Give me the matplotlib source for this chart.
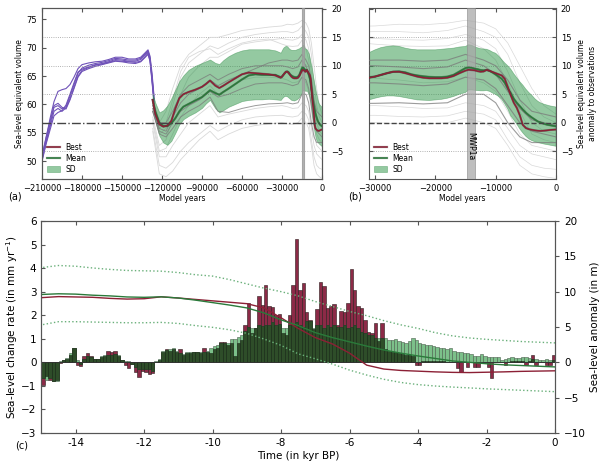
import numpy as np
import matplotlib
matplotlib.use('Agg')
import matplotlib.pyplot as plt
import matplotlib.patheffects as pe

# ---------------- data ----------------
# purple ensemble (glacial build-up), sea-level equivalent volume
yr_pur = [-210000, -207000, -204000, -201000, -198000, -195000, -192000, -189000,
          -186000, -183000, -180000, -175000, -170000, -165000, -160000, -155000,
          -150000, -145000, -140000, -136000, -133000, -130500, -129000, -127500, -126000]
pur_lines = [
    [51.0, 54.0, 57.5, 60.5, 62.3, 62.6, 62.8, 63.5, 64.8, 66.3, 67.0, 67.3, 67.5, 67.6,
     67.9, 68.3, 68.3, 68.0, 68.0, 68.3, 69.0, 69.6, 68.5, 65.5, 61.5],
    [50.5, 53.5, 56.5, 59.5, 59.8, 59.2, 59.6, 61.5, 63.5, 65.5, 66.4, 66.9, 67.2, 67.4,
     67.7, 68.1, 68.0, 67.8, 67.8, 68.1, 68.8, 69.4, 68.2, 65.0, 61.0],
    [50.2, 53.2, 56.0, 58.8, 59.3, 58.8, 59.4, 61.0, 63.0, 65.0, 66.0, 66.5, 66.9, 67.2,
     67.5, 67.9, 67.8, 67.6, 67.6, 67.9, 68.6, 69.2, 68.0, 64.6, 60.8],
    [50.0, 53.0, 55.5, 58.0, 58.6, 58.9, 59.9, 61.8, 63.8, 65.7, 66.2, 66.6, 67.0, 67.1,
     67.4, 67.7, 67.6, 67.5, 67.4, 67.6, 68.3, 69.0, 67.8, 64.3, 60.5],
    [50.8, 54.2, 57.0, 59.8, 60.2, 59.5, 59.2, 60.8, 62.8, 64.8, 65.8, 66.3, 66.7, 67.0,
     67.3, 67.6, 67.5, 67.3, 67.2, 67.5, 68.2, 68.8, 67.6, 64.0, 60.2],
]

# gray ensemble members, anomaly to observations (m)
yr_ens = [-127000, -122000, -117000, -112000, -106000, -100000, -92000, -84000, -78000,
          -70000, -60000, -50000, -40000, -30000, -26000, -22000, -18000, -15000, -12000,
          -10000, -8000, -6000, -4000, -2000, 0]
light_lines = [
    [3, 0, 2, 6, 10, 12, 13.5, 15, 15, 15.5, 16.2, 16.5, 16.8, 17, 17.3, 17.2, 17.5, 18.0, 17.5, 16.5, 14, 10, 6, 3, 1.5],
    [2, -2, -1, 3, 8, 10.5, 12, 13.5, 13, 14, 15, 15.5, 15.8, 16, 16, 15.8, 16.2, 17, 16, 15, 12, 7, 3, 1, 0],
    [1, -4, -3, 1, 5, 8, 10, 11.5, 11.5, 12.5, 13.8, 14.2, 14.5, 14.8, 14.6, 14.5, 14.8, 15.5, 14.5, 13, 9, 4, 0, -1.5, -2],
    [0, -6, -6, -4, -2, 0, 1.5, 3, 1, 1.5, 2, 2.5, 2.8, 3.0, 2.8, 2.5, 2.6, 3.5, 3, 2, -1, -4, -5.5, -6, -6.5],
    [-1, -7.5, -8, -7, -5, -3.5, -2, -0.5, -1.5, -0.5, 0.5, 1.0, 1.2, 1.3, 1.1, 1.0, 1.2, 2.0, 1.5, 0.5, -3, -6, -7.5, -8, -8.2],
    [-1.5, -9, -9.5, -8.5, -6.5, -5, -3, -1.5, -3, -2, -1, -0.5, -0.2, 0, -0.2, -0.3, 0, 0.8, 0, -1, -4, -7.5, -9, -9.5, -9.8],
    [2.5, -1, 0, 4, 9, 11.5, 12.5, 13, 12, 13, 14, 14.5, 14.7, 13.8, 13.5, 13.4, 13.5, 14.5, 13, 11, 7, 2, -2, -3, -3.5],
    [0.5, -5, -4.5, -2, 1, 3, 5, 6.5, 5, 6, 7.5, 8, 8, 7.8, 7.5, 7.0, 7.2, 8, 7, 5.5, 2, -2, -4, -4.5, -5],
]
dark_lines = [
    [2.5, -1, -1.5, 1, 3.5, 5, 6, 7.5, 6.5, 7.5, 8.5, 9.5, 10.5, 11, 11, 10.8, 11, 12, 11, 10, 7.5, 4, 2, 1.5, 1],
    [2, -1.5, -2, 0, 2, 3, 4, 5.5, 4.5, 5, 6, 6.8, 7, 7, 6.8, 6.5, 6.8, 8, 7.5, 6, 3, 0, -1.5, -2, -2.5],
    [2, -2, -2.5, -1, 1, 2, 3, 4.5, 2, 1.8, 2.5, 3, 3.3, 3.4, 3.5, 3.3, 3.5, 5, 5, 3.5, 0, -2.5, -3.5, -3.5, -3.5],
    [3, 0, 0, 2, 5, 6.5, 7.5, 8.5, 7.5, 8.5, 9.5, 10, 10, 10, 9.8, 9.5, 9.8, 11, 10, 8.5, 5.5, 2.5, 0.5, 0, -0.5],
]

# best run, ensemble mean and mean +/- SD (anomaly, m)
yr_stat = [-127000, -125000, -122000, -119000, -116000, -113000, -110000, -107000, -104000,
           -100000, -95000, -90000, -87000, -84000, -80000, -77000, -74000, -70000, -65000,
           -60000, -55000, -50000, -45000, -40000, -35000,
           -31000, -30000, -29000, -28000, -27000, -26000, -25000, -24000, -23000, -22000,
           -21000, -20000, -19000, -18000, -17000, -16000,
           -15000, -14500, -14000, -13500, -13000, -12500, -12000, -11500, -11000, -10500,
           -10000, -9500, -9000, -8500, -8000, -7500, -7000, -6500, -6000, -5500, -5000,
           -4500, -4000, -3500, -3000, -2500, -2000, -1500, -1000, -500, 0]
mean = [4.0, 2.0, 0.0, -0.6, -0.6, -0.1, 0.8, 2.0, 2.8, 3.3, 3.9, 4.5, 5.1, 5.7, 5.2, 4.9,
        5.4, 6.0, 6.8, 7.6, 8.3, 8.5, 8.4, 8.4, 8.4,
        8.0, 8.1, 8.4, 8.7, 8.95, 9.0, 8.85, 8.5, 8.3, 8.15, 8.05, 8.0, 8.0, 8.1, 8.4, 9.0,
        9.6, 9.7, 9.65, 9.5, 9.4, 9.25, 9.2, 9.27, 9.1, 8.8, 8.45, 8.1, 7.7, 7.0, 6.0, 5.2,
        4.2, 3.5, 2.9, 2.3, 1.75, 1.3, 0.9, 0.55, 0.2, 0.0, -0.2, -0.35, -0.45, -0.55, -0.65]
best = [4.0, 1.5, -0.3, -0.7, -0.5, 0.3, 2.5, 4.3, 5.0, 5.4, 5.8, 6.3, 6.8, 7.4, 6.5, 6.1,
        6.5, 7.1, 7.8, 8.5, 8.8, 8.7, 8.6, 8.5, 8.3,
        7.9, 8.1, 8.4, 8.7, 8.95, 8.95, 8.7, 8.4, 8.1, 7.9, 7.8, 7.8, 7.8, 7.9, 8.2, 8.7,
        9.15, 9.3, 9.25, 9.2, 9.05, 8.95, 9.0, 9.27, 9.1, 8.9, 8.7, 8.5, 8.3, 7.7, 6.3, 4.8,
        3.5, 2.6, 1.3, -0.4, -0.95, -1.15, -1.25, -1.35, -1.42, -1.45, -1.4, -1.35, -1.28, -1.24, -1.2]
sd_hi = [5.0, 3.5, 1.8, 2.2, 3.0, 4.3, 5.8, 7.3, 8.3, 9.3, 10.0, 10.5, 10.8, 11.1, 10.5, 10.3,
         11.0, 11.7, 12.3, 12.7, 12.9, 12.9, 12.9, 12.9, 12.7,
         12.3, 12.8, 13.2, 13.4, 13.5, 13.4, 13.1, 12.9, 12.8, 12.8, 12.8, 12.8, 12.9, 13.0, 13.1, 13.3,
         13.4, 13.7, 13.6, 13.35, 13.15, 13.0, 12.95, 12.9, 12.7, 12.4, 12.2, 11.7, 11.1, 10.5, 10.0,
         9.4, 8.6, 7.9, 7.2, 6.6, 5.9, 5.3, 4.8, 4.2, 3.75, 3.45, 3.25, 3.1, 2.95, 2.85, 2.75]
sd_lo = [3.0, 0.3, -2.3, -3.5, -3.9, -3.2, -1.8, -0.3, 0.6, 1.2, 1.8, 2.6, 3.4, 4.0, 2.5, 1.8,
         2.2, 2.8, 3.3, 3.8, 4.0, 4.1, 4.1, 4.2, 4.1,
         4.0, 4.3, 4.55, 4.7, 4.7, 4.6, 4.4, 4.2, 4.0, 3.95, 3.9, 4.0, 4.1, 4.3, 4.6, 5.0,
         5.3, 5.75, 5.75, 5.7, 5.65, 5.6, 5.6, 5.65, 5.5, 5.2, 4.95, 4.6, 4.1, 3.3, 2.4, 1.2,
         0.5, -0.25, -1.1, -1.8, -2.4, -2.85, -3.15, -3.35, -3.5, -3.62, -3.75, -3.85, -3.95, -4.05, -4.15]

mwp_start, mwp_end = -14700, -13500
vol_offset = 56.8   # volume of present-day observations

# sea-level change rates, 100-yr bins from -15 kyr BP (mm/yr)
rate_best = [-0.95, -0.6, -0.75, -0.78, -0.75, -0.02, 0.1, 0.15, 0.3, 0.6,
             -0.12, -0.15, 0.25, 0.38, 0.27, 0.15, 0.15, 0.22, 0.28, 0.47,
             0.42, 0.5, 0.25, 0.08, -0.1, -0.22, -0.05, -0.42, -0.62, -0.35,
             -0.42, -0.5, -0.47, 0.02, 0.12, 0.42, 0.55, 0.5, 0.55, 0.42,
             0.55, 0.3, 0.4, 0.4, 0.42, 0.42, 0.38, 0.6, 0.45, 0.38,
             0.55, 0.6, 0.88, 0.88, 0.75, 0.8, 0.25, 0.8, 0.95, 1.58,
             2.5, 1.25, 1.45, 2.8, 2.43, 3.28, 2.38, 2.35, 2.0, 2.05,
             1.23, 1.15, 2.0, 3.28, 5.25, 3.05, 3.38, 2.15, 1.8, 1.4,
             2.26, 3.39, 3.23, 2.29, 2.39, 2.46, 1.58, 2.19, 2.12, 2.5,
             3.98, 3.06, 2.39, 2.29, 1.79, 1.27, 1.23, 1.68, 0.9, 1.65,
             0.55, 0.5, 0.45, 0.45, 0.4, 0.35, 0.3, 0.3, 0.25, -0.11,
             -0.1, 0.05, 0.05, 0.05, 0.05, 0.04, 0.04, 0.04, 0.03, 0.03,
             0.03, -0.25, -0.4, 0.02, -0.2, 0.02, -0.18, -0.18, 0.02, 0.02,
             -0.18, -0.65, 0.02, 0.02, 0.02, -0.12, 0.02, 0.05, 0.05, 0.05,
             0.05, -0.1, 0.05, 0.31, -0.12, 0.02, 0.02, -0.1, -0.12, 0.31]
rate_mean = [-0.65, -0.75, -0.65, -0.78, -0.8, 0.05, 0.12, 0.2, 0.38, 0.62,
             0.1, -0.05, 0.15, 0.25, 0.22, 0.15, 0.15, 0.27, 0.3, 0.32,
             0.3, 0.35, 0.3, 0.12, 0.05, 0.05, -0.05, -0.2, -0.3, -0.3,
             -0.3, -0.3, -0.35, 0.05, 0.15, 0.47, 0.52, 0.55, 0.6, 0.5,
             0.4, 0.35, 0.45, 0.45, 0.42, 0.45, 0.42, 0.45, 0.5, 0.6,
             0.7, 0.73, 0.8, 0.82, 0.82, 1.0, 1.0, 1.08, 1.15, 1.33,
             1.5, 1.45, 1.45, 1.6, 1.55, 1.6, 1.6, 1.72, 1.58, 1.62,
             1.47, 1.45, 1.58, 1.6, 1.72, 1.6, 1.52, 1.75, 1.75, 1.44,
             1.58, 1.58, 1.44, 1.58, 1.52, 1.58, 1.52, 1.52, 1.58, 1.44,
             1.52, 1.58, 1.44, 1.3, 1.23, 1.16, 1.16, 1.02, 1.02, 1.02,
             1.02, 0.95, 0.95, 0.97, 0.92, 0.88, 0.8, 0.92, 1.02, 0.95,
             0.8, 0.78, 0.73, 0.73, 0.69, 0.66, 0.62, 0.59, 0.56, 0.59,
             0.48, 0.45, 0.45, 0.38, 0.41, 0.35, 0.27, 0.28, 0.34, 0.28,
             0.24, 0.24, 0.24, 0.24, 0.1, 0.13, 0.17, 0.21, 0.2, 0.2,
             0.24, 0.21, 0.2, 0.14, 0.14, 0.1, 0.12, 0.15, 0.12, 0.1]

# ---------------- style ----------------
c_best = '#8c2035'
c_mean = '#2a7a3a'
c_band = '#2a9445'
c_pur = '#6f52b8'
c_spine = '#555555'

plt.rcParams['font.family'] = 'DejaVu Sans'
plt.rcParams['axes.edgecolor'] = c_spine
plt.rcParams['xtick.color'] = c_spine
plt.rcParams['ytick.color'] = c_spine
plt.rcParams['xtick.labelcolor'] = 'black'
plt.rcParams['ytick.labelcolor'] = 'black'

# thin dark rim round the best / mean curves
outline = [pe.Stroke(linewidth=1.6, foreground='#3a3a3a', alpha=0.45), pe.Normal()]

fig = plt.figure(figsize=(6, 4.67), dpi=100)


def draw_ensemble(ax, light_lw=0.6, dark_lw=0.7):
    for ln in light_lines:
        ax.plot(yr_ens, ln, color='#d9d9d9', lw=light_lw, zorder=1)
    ax.fill_between(yr_stat, sd_lo, sd_hi, facecolor=c_band, alpha=0.5,
                    edgecolor='#2f8a45', lw=0.5, zorder=2, label='SD')
    for ln in dark_lines:
        ax.plot(yr_ens, ln, color='#7a7a7a', lw=dark_lw, alpha=0.75, zorder=3)
    ax.plot(yr_stat, best, color=c_best, lw=1.1, zorder=5, label='Best',
            path_effects=outline)
    ax.plot(yr_stat, mean, color=c_mean, lw=1.1, zorder=4, label='Mean',
            path_effects=outline)


def grid_lines(ax, ls):
    for v in [15, 10, 5, -5]:
        ax.axhline(v, color='#999999', lw=0.6, ls=':', zorder=0)
    ax.axhline(0, color='#444444', lw=1.0, ls=ls, zorder=6)


def add_legend(ax):
    h, l = ax.get_legend_handles_labels()
    order = [l.index('Best'), l.index('Mean'), l.index('SD')]
    ax.legend([h[i] for i in order], [l[i] for i in order], loc='lower left',
              fontsize=5.5, frameon=False, handlelength=1.6, borderaxespad=0.3,
              labelspacing=0.25)


# ---- panel (a) ----
ax_a = fig.add_axes([0.07, 0.6167, 0.4667, 0.3655])
ax_a2 = ax_a.twinx()
for ln in pur_lines:
    ax_a.plot(yr_pur, ln, color=c_pur, lw=0.8)
ax_a.set_xlim(-210000, 0)
ax_a.set_ylim(46.9, 76.9)
ax_a.set_yticks([50, 55, 60, 65, 70, 75])
ax_a.set_xticks([-210000, -180000, -150000, -120000, -90000, -60000, -30000, 0])
ax_a.tick_params(labelsize=6, direction='in', length=3, top=True)
ax_a.set_xlabel('Model years', fontsize=5.5, labelpad=1)
ax_a.set_ylabel('Sea-level equivalent volume', fontsize=5.5, labelpad=2)

ax_a2.set_ylim(46.9 - vol_offset, 76.9 - vol_offset)
grid_lines(ax_a2, '-.')
ax_a2.axvspan(mwp_start, mwp_end, facecolor='#a0a0a0', edgecolor='#999999',
              alpha=0.8, lw=0.8, zorder=3.5)
draw_ensemble(ax_a2)
ax_a2.set_yticks([-5, 0, 5, 10, 15, 20])
ax_a2.tick_params(labelsize=6, direction='out', length=3)
add_legend(ax_a2)
fig.text(0.013, 0.573, '(a)', fontsize=7)

# ---- panel (b) ----
ax_b = fig.add_axes([0.615, 0.6167, 0.3117, 0.3655])
ax_b.set_ylim(46.9 - vol_offset, 76.9 - vol_offset)
ax_b.set_xlim(-31000, 0)
grid_lines(ax_b, '--')
ax_b.axvspan(mwp_start, mwp_end, facecolor='#a8a8a8', edgecolor='#909090',
             alpha=0.75, lw=0.6, zorder=3.5)
draw_ensemble(ax_b, light_lw=0.5, dark_lw=0.8)
ax_b.text((mwp_start + mwp_end) / 2, -1.6, 'MWP1a', rotation=270, fontsize=5.5,
          ha='center', va='top', zorder=7)
ax_b.set_xticks([-30000, -20000, -10000, 0])
ax_b.set_yticks([-5, 0, 5, 10, 15, 20])
ax_b.tick_params(labelsize=6, direction='in', length=3, top=True,
                 left=True, right=False, labelleft=False)
ax_b.tick_params(axis='y', right=True, labelright=True)
ax_b.yaxis.set_label_position('right')
ax_b.set_ylabel('Sea-level equivalent volume\nanomaly to observations',
                fontsize=5.5, labelpad=3)
ax_b.set_xlabel('Model years', fontsize=5.5, labelpad=1)
add_legend(ax_b)
fig.text(0.58, 0.573, '(b)', fontsize=7)

# ---- panel (c) ----
ax_c = fig.add_axes([0.069, 0.0728, 0.856, 0.454])
ax_c2 = ax_c.twinx()
bins = np.round(np.arange(-15.0, 0.0, 0.1), 1)
rb = np.array(rate_best)
rm = np.array(rate_mean)
overlap = np.where(np.sign(rb) == np.sign(rm),
                   np.sign(rb) * np.minimum(np.abs(rb), np.abs(rm)), 0.0)
ax_c.bar(bins, rb, width=0.1, align='edge', color='#8c2a47', edgecolor='#2a1a1a', lw=0.4)
ax_c.bar(bins, rm, width=0.1, align='edge', color='#7cc08a', edgecolor='#4a5f4d', lw=0.4)
ax_c.bar(bins, overlap, width=0.1, align='edge', color='#2e4d29', edgecolor='#1a2a18', lw=0.4)
ax_c.axhline(0, color='#333333', lw=0.6)
ax_c.set_xlim(-15, 0)
ax_c.set_ylim(-3, 6)
ax_c.set_yticks(range(-3, 7))
ax_c.set_xticks([-14, -12, -10, -8, -6, -4, -2, 0],
                labels=['-14', '-12', '-10', '-8', '-6', '-4', '-2', '0'])
ax_c.tick_params(labelsize=7.5, direction='in', length=3, top=True)
ax_c.set_xlabel('Time (in kyr BP)', fontsize=7.5, labelpad=2)
ax_c.set_ylabel(r'Sea-level change rate (in mm yr$^{-1}$)', fontsize=7.5, labelpad=1)

yr_kyr = np.array(yr_stat) / 1000.0
ax_c2.plot(yr_kyr, sd_hi, color='#6ab07a', lw=1.0, ls=':')
ax_c2.plot(yr_kyr, sd_lo, color='#6ab07a', lw=1.0, ls=':')
ax_c2.plot(yr_kyr, best, color=c_best, lw=1.0)
ax_c2.plot(yr_kyr, mean, color=c_mean, lw=1.0)
ax_c2.set_xlim(-15, 0)
ax_c2.set_ylim(-10, 20)
ax_c2.set_yticks([-10, -5, 0, 5, 10, 15, 20])
ax_c2.tick_params(labelsize=7.5, direction='out', length=3)
ax_c2.set_ylabel('Sea-level anomaly (in m)', fontsize=7.5, labelpad=3)
fig.text(0.025, 0.04, '(c)', fontsize=7)

fig.savefig('out.png', dpi=100)
